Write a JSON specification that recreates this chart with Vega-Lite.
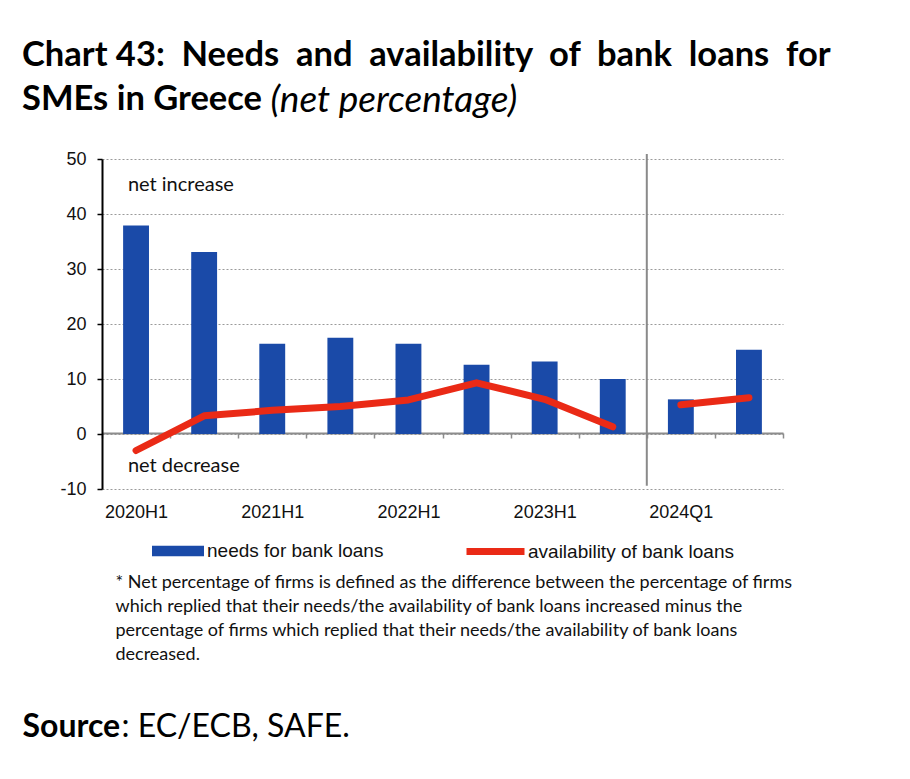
{
  "$schema": "https://vega.github.io/schema/vega-lite/v6.json",
  "width": 681,
  "height": 330,
  "autosize": "none",
  "padding": {"left": 102, "top": 159, "right": 127, "bottom": 290},
  "background": "white",
  "config": {"view": {"stroke": null}},
  "title": {
    "text": ["Chart 43: \u00a0Needs \u00a0and \u00a0availability \u00a0of \u00a0bank \u00a0loans \u00a0for", "SMEs in Greece"],
    "anchor": "start",
    "frame": "group",
    "dx": -80,
    "dy": 40,
    "font": "Lato",
    "fontSize": 34.5,
    "fontWeight": "bold",
    "color": "#000000",
    "lineHeight": 44,
    "limit": 900
  },
  "data": {
    "values": [
      {"period": "2020H1", "needs": 37.9, "avail": -3.0, "seg": "a"},
      {"period": "2020H2", "needs": 33.1, "avail": 3.3, "seg": "a"},
      {"period": "2021H1", "needs": 16.4, "avail": 4.3, "seg": "a"},
      {"period": "2021H2", "needs": 17.5, "avail": 5.0, "seg": "a"},
      {"period": "2022H1", "needs": 16.4, "avail": 6.2, "seg": "a"},
      {"period": "2022H2", "needs": 12.6, "avail": 9.3, "seg": "a"},
      {"period": "2023H1", "needs": 13.2, "avail": 6.3, "seg": "a"},
      {"period": "2023H2", "needs": 10.0, "avail": 1.3, "seg": "a"},
      {"period": "2024Q1", "needs": 6.3, "avail": 5.3, "seg": "b"},
      {"period": "2024Q2", "needs": 15.3, "avail": 6.6, "seg": "b"}
    ]
  },
  "layer": [
    {
      "mark": {"type": "bar", "width": {"band": 0.38}},
      "encoding": {
        "x": {
          "field": "period",
          "type": "nominal",
          "sort": null,
          "scale": {
            "domain": ["2020H1", "2020H2", "2021H1", "2021H2", "2022H1", "2022H2", "2023H1", "2023H2", "2024Q1", "2024Q2"],
            "paddingInner": 0,
            "paddingOuter": 0
          },
          "axis": {
            "orient": "bottom",
            "offset": -56,
            "tickBand": "extent",
            "domainColor": "#8c8c8c",
            "domainWidth": 2,
            "tickColor": "#8c8c8c",
            "tickSize": 5,
            "tickWidth": 1.5,
            "labelPadding": 65,
            "labelAngle": 0,
            "labelFont": "Liberation Sans",
            "labelFontSize": 18,
            "labelColor": "#111111",
            "labelExpr": "indexof(['2020H1','2021H1','2022H1','2023H1','2024Q1'], datum.value) >= 0 ? datum.value : ''",
            "grid": false,
            "title": [
              "* Net percentage of firms is defined as the difference between the percentage of firms",
              "which replied that their needs/the availability of bank loans increased minus the",
              "percentage of firms which replied that their needs/the availability of bank loans",
              "decreased."
            ],
            "titleX": 13,
            "titleY": 140,
            "titleAlign": "left",
            "titleAnchor": "start",
            "titleBaseline": "top",
            "titleFont": "Lato",
            "titleFontSize": 18,
            "titleFontWeight": "normal",
            "titleColor": "#111111",
            "titleLineHeight": 24,
            "titleLimit": 800
          }
        },
        "y": {
          "field": "needs",
          "type": "quantitative",
          "scale": {"domain": [-10, 50], "nice": false, "zero": false},
          "axis": {
            "orient": "left",
            "values": [-10, 0, 10, 20, 30, 40, 50],
            "labelExpr": "toString(datum.value)",
            "grid": true,
            "gridDash": [2, 2],
            "gridColor": "#9a9a9a",
            "gridWidth": 1,
            "domainColor": "#000000",
            "domainWidth": 2,
            "tickColor": "#000000",
            "tickSize": 5,
            "tickWidth": 1.5,
            "labelFont": "Liberation Sans",
            "labelFontSize": 18,
            "labelColor": "#111111",
            "labelPadding": 11,
            "title": "Source",
            "titleAngle": 0,
            "titleX": -80,
            "titleY": 567,
            "titleAlign": "left",
            "titleBaseline": "middle",
            "titleFont": "Lato",
            "titleFontSize": 32,
            "titleFontWeight": "bold",
            "titleColor": "#000000"
          }
        },
        "fill": {
          "datum": "needs for bank loans",
          "type": "nominal",
          "scale": {"range": ["#1a4aa8"]},
          "legend": {
            "orient": "none",
            "legendX": 50,
            "legendY": 366,
            "title": null,
            "padding": 0,
            "symbolType": "M-1,-0.2H1V0.2H-1Z",
            "symbolSize": 2704,
            "symbolStrokeWidth": 0,
            "labelFont": "Liberation Sans",
            "labelFontSize": 19,
            "labelColor": "#111111",
            "labelOffset": 3,
            "labelLimit": 400
          }
        }
      }
    },
    {
      "mark": {"type": "line", "strokeWidth": 7, "strokeCap": "round", "strokeJoin": "round"},
      "encoding": {
        "x": {
          "field": "period",
          "type": "nominal",
          "sort": null,
          "axis": {
            "orient": "top",
            "domain": false,
            "ticks": false,
            "labels": false,
            "grid": false,
            "title": "(net percentage)",
            "titleX": 168,
            "titleY": -48,
            "titleAlign": "left",
            "titleAnchor": "start",
            "titleBaseline": "alphabetic",
            "titleFont": "Lato",
            "titleFontSize": 37,
            "titleFontStyle": "italic",
            "titleFontWeight": "normal",
            "titleColor": "#000000",
            "titleLimit": 600
          }
        },
        "y": {
          "field": "avail",
          "type": "quantitative",
          "axis": {
            "orient": "right",
            "domain": false,
            "ticks": false,
            "labels": false,
            "grid": false,
            "title": ": EC/ECB, SAFE.",
            "titleAngle": 0,
            "titleX": -662,
            "titleY": 567,
            "titleAlign": "left",
            "titleBaseline": "middle",
            "titleFont": "Lato",
            "titleFontSize": 32,
            "titleFontWeight": "normal",
            "titleColor": "#000000",
            "titleLimit": 600
          }
        },
        "detail": {"field": "seg"},
        "stroke": {
          "datum": "availability of bank loans",
          "type": "nominal",
          "scale": {"range": ["#ea2a16"]},
          "legend": {
            "orient": "none",
            "legendX": 361,
            "legendY": 360,
            "title": null,
            "padding": 0,
            "symbolType": "stroke",
            "symbolSize": 3364,
            "symbolStrokeWidth": 7,
            "labelFont": "Liberation Sans",
            "labelFontSize": 19,
            "labelColor": "#111111",
            "labelOffset": 0,
            "labelLimit": 400
          }
        }
      }
    },
    {
      "data": {"values": [{"label": "separator"}]},
      "mark": {"type": "rule", "color": "#8a8a8a", "strokeWidth": 2},
      "encoding": {
        "x": {"datum": "2024Q1", "bandPosition": 0, "axis": null},
        "y": {"datum": 50.9, "axis": null},
        "y2": {"datum": -9.4}
      }
    },
    {
      "data": {"values": [{"label": "net increase"}]},
      "mark": {"type": "text", "align": "left", "baseline": "middle", "font": "Lato", "fontSize": 20, "color": "#111111"},
      "encoding": {
        "x": {"datum": "2020H1", "bandPosition": 0.38, "axis": null},
        "y": {"datum": 45.3, "axis": null},
        "text": {"field": "label"}
      }
    },
    {
      "data": {"values": [{"label": "net decrease"}]},
      "mark": {"type": "text", "align": "left", "baseline": "middle", "font": "Lato", "fontSize": 20, "color": "#111111"},
      "encoding": {
        "x": {"datum": "2020H1", "bandPosition": 0.38, "axis": null},
        "y": {"datum": -5.8, "axis": null},
        "text": {"field": "label"}
      }
    }
  ],
  "resolve": {"axis": {"x": "independent", "y": "independent"}}
}
